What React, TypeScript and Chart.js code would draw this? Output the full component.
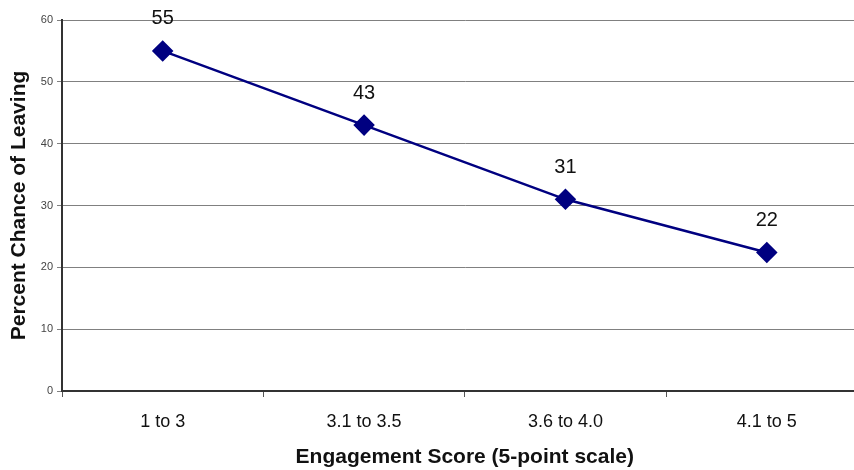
import React, { useEffect, useRef } from "react";
import { Chart, registerables } from "chart.js";

Chart.register(...registerables);

const categories = ["1 to 3", "3.1 to 3.5", "3.6 to 4.0", "4.1 to 5"];
const values = [55, 43, 31, 22.4];
const pointLabels = ["55", "43", "31", "22"];
const yTitle = "Percent Chance of Leaving";
const xTitle = "Engagement Score (5-point scale)";

const FONT = "'Liberation Sans', Arial, sans-serif";

const labelPlugin = {
  id: "pointLabels",
  afterDatasetsDraw(chart: any) {
    const ctx = chart.ctx;
    const meta = chart.getDatasetMeta(0);
    ctx.save();
    ctx.font = `20px ${FONT}`;
    ctx.fillStyle = "#111";
    ctx.textAlign = "center";
    ctx.textBaseline = "middle";
    meta.data.forEach((el: any, i: number) => {
      ctx.fillText(pointLabels[i], el.x, el.y - 32);
    });
    ctx.restore();
  },
};

export default function App() {
  const ref = useRef<HTMLCanvasElement>(null);
  useEffect(() => {
    if (!ref.current) return;
    const chart = new Chart(ref.current, {
      type: "line",
      data: {
        labels: categories,
        datasets: [
          {
            data: values,
            borderColor: "#000080",
            backgroundColor: "#000080",
            borderWidth: 2.5,
            pointStyle: "rectRot",
            pointRadius: 9,
            pointHoverRadius: 9,
            pointBackgroundColor: "#000080",
            pointBorderColor: "#000080",
            tension: 0,
          },
        ],
      },
      options: {
        responsive: false,
        animation: false,
        layout: { padding: { top: 20, right: 5, left: 0, bottom: 0 } },
        plugins: {
          legend: { display: false },
          tooltip: { enabled: false },
        },
        scales: {
          x: {
            offset: true,
            grid: {
              offset: true,
              drawOnChartArea: false,
              drawTicks: true,
              tickLength: 6,
              color: "#555",
            },
            border: { color: "#333", width: 2 },
            ticks: {
              color: "#111",
              font: { family: FONT, size: 18 },
              padding: 14,
            },
            title: {
              display: true,
              text: xTitle,
              color: "#111",
              font: { family: FONT, size: 21, weight: "bold" },
              padding: { top: 6, bottom: 0 },
            },
            afterFit: (s: any) => {
              s.height = 79;
            },
          },
          y: {
            min: 0,
            max: 60,
            ticks: {
              stepSize: 10,
              color: "#444",
              font: { family: FONT, size: 11 },
              padding: 4,
            },
            grid: {
              color: "#808080",
              lineWidth: 1,
              drawTicks: true,
              tickLength: 5,
            },
            border: { color: "#333", width: 2 },
            title: {
              display: true,
              text: yTitle,
              color: "#111",
              font: { family: FONT, size: 21, weight: "bold" },
              padding: { top: 7, bottom: 6 },
            },
            afterFit: (s: any) => {
              s.width = 62;
            },
          },
        },
      },
      plugins: [labelPlugin],
    });
    return () => chart.destroy();
  }, []);
  return (
    <div
      style={{
        position: "fixed",
        left: 0,
        top: 0,
        width: 854,
        height: 470,
        overflow: "hidden",
        background: "#fff",
      }}
    >
      <canvas ref={ref} width={879} height={470} style={{ display: "block" }} />
    </div>
  );
}
